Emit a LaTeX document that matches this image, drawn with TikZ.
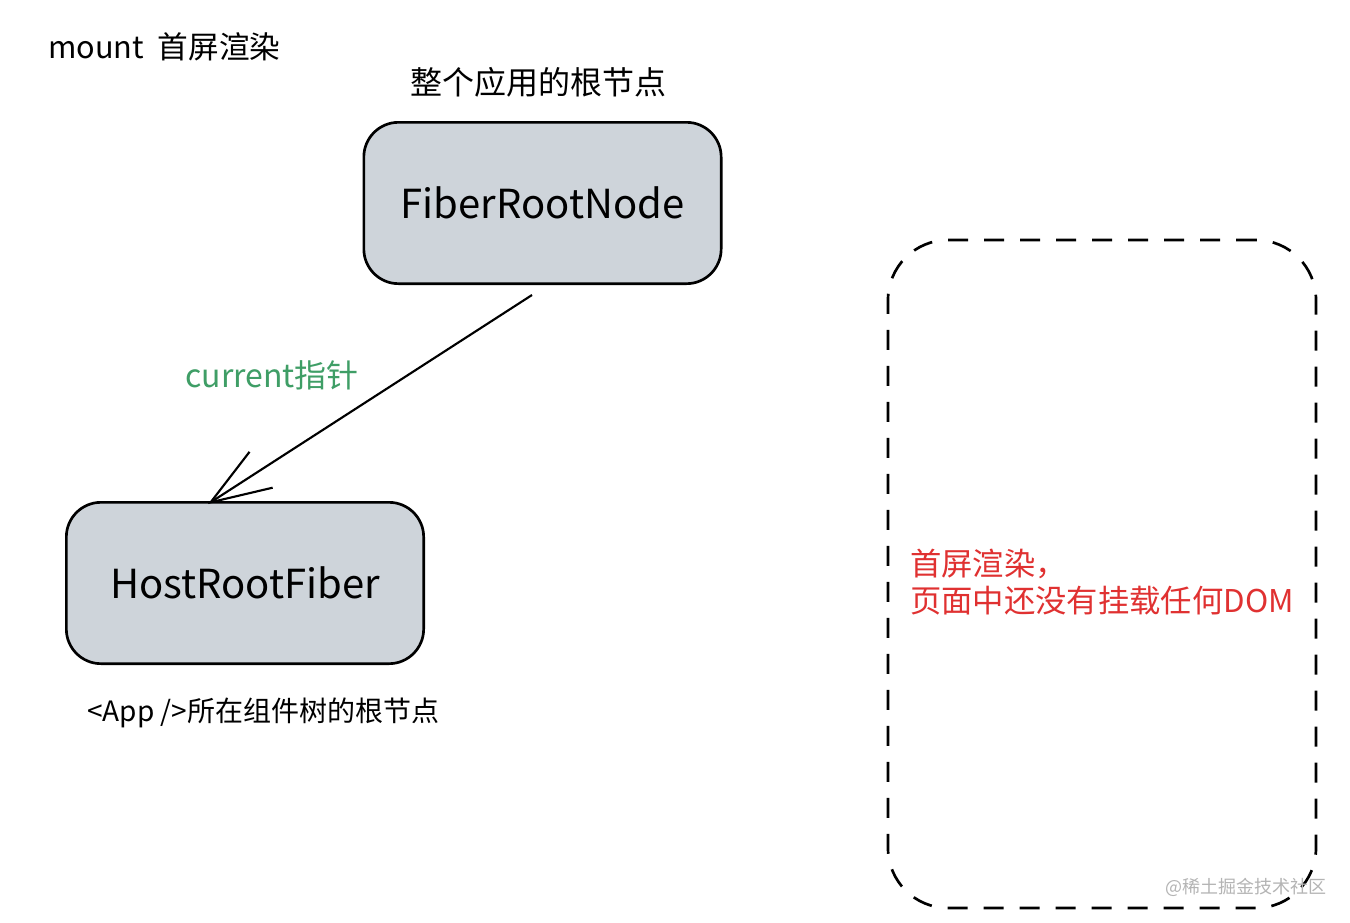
\documentclass[tikz,border=0pt]{standalone}
\usepackage{fontspec}
\setmainfont{Noto Sans CJK SC}
\usetikzlibrary{arrows.meta}
\definecolor{boxfill}{HTML}{CED4DA}
\definecolor{pgreen}{HTML}{3F9E66}
\definecolor{pred}{HTML}{E03131}
\definecolor{wmark}{HTML}{B4B4B4}
\tikzset{
  fiberbox/.style={draw=black, line width=2pt, fill=boxfill, rounded corners=26pt,
    minimum width=268pt, minimum height=121pt, inner sep=0pt,
    font=\fontsize{30}{34}\selectfont},
  lbl/.style={inner sep=0pt, anchor=west},
  ptr/.style={line width=1.6pt, -{Straight Barb[length=45pt,width=32pt,line width=1.6pt]}},
  dashbox/.style={draw=black, line width=2pt, dash pattern=on 15pt off 12pt, rounded corners=45pt}
}
\begin{document}
\begin{tikzpicture}[x=0.75pt,y=-0.75pt]
\useasboundingbox[fill=white] (0,0) rectangle (1350,922);
% title
\node[lbl, font=\fontsize{23}{26}\selectfont] (title) at (48,47) {mount\ \ 首屏渲染};
\node[lbl, font=\fontsize{24}{26}\selectfont] (toplbl) at (410,82) {整个应用的根节点};
% boxes
\node[fiberbox] (frn) at (542.5,203) {FiberRootNode};
\node[fiberbox] (hrf) at (245,583) {HostRootFiber};
\node[lbl, font=\fontsize{21}{24}\selectfont] (botlbl) at (87,713) {<App />所在组件树的根节点};
% pointer
\coordinate (pstart) at (532,295);
\coordinate (pend) at (208,504);
\draw[ptr] (pstart) -- (pend);
\node[lbl, font=\fontsize{24}{26}\selectfont, text=pgreen] (cur) at (185,375) {current指针};
% dashed region
\node[dashbox, minimum width=321pt, minimum height=501pt] (page) at (1102,574) {};
\node[lbl, font=\fontsize{23.5}{28}\selectfont, text=pred, align=left] (note) at (910,582)
  {首屏渲染，\\页面中还没有挂载任何DOM};
% watermark
\node[lbl, font=\fontsize{13.5}{16}\selectfont, text=wmark] (wm) at (1165,887) {@稀土掘金技术社区};
\end{tikzpicture}
\end{document}
